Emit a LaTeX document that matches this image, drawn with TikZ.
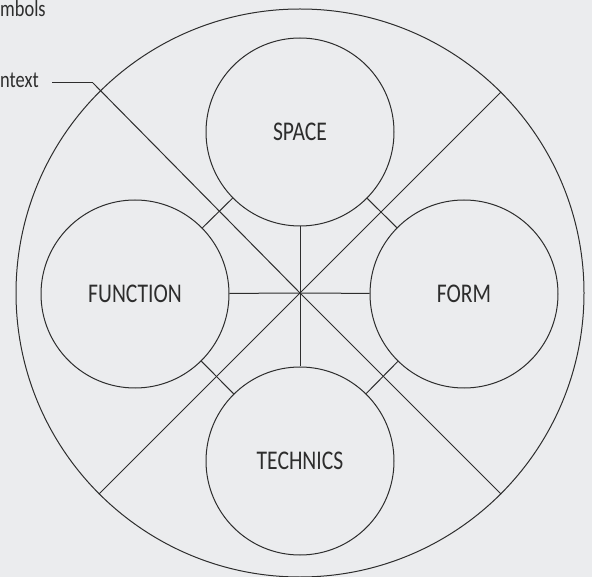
\documentclass[tikz,border=0pt]{standalone}
\usepackage{fontspec}
\newfontfamily\handfont[FakeStretch=0.8]{Carlito}
\definecolor{paper}{RGB}{235,236,238}
\definecolor{ink}{RGB}{45,45,45}
\usetikzlibrary{positioning}

\begin{document}
\begin{tikzpicture}[x=1pt, y=-1pt, every node/.style={font=\handfont}]
        \tikzset{
          realm/.style={circle, draw=ink, line width=1pt,
                 minimum size=188pt, inner sep=0pt,
                 font=\handfont\fontsize{27}{27}\selectfont, text=ink},
          spoke/.style={draw=ink, line width=1pt},
          margin/.style={inner sep=0pt, text=ink,
                 font=\handfont\fontsize{23}{23}\selectfont}
        }
        \path[use as bounding box, fill=paper] (0,0) rectangle (592,577);
        \node[circle, draw=ink, line width=1pt, minimum size=568pt] (whole) at (300,293) {};
        \coordinate (hub) at (300,293);
        \node[realm] (space)    at (300,132) {SPACE};
        \node[realm] (function) at (135,294) {FUNCTION};
        \node[realm] (form)     at (464,294) {FORM};
        \node[realm] (technics) at (300,461) {TECHNICS};
        \node[margin, anchor=base west] (symbols) at (0,17) {mbols};
        \node[margin, anchor=base west] (context) at (0,88) {ntext};
        \coordinate (bend) at (93,83);
        % spokes to the four realms and out to the rim
        \foreach \r in {space, function, form, technics}
          \draw[spoke] (hub) -- (\r);
        \foreach \a in {45, -45, -135}
          \draw[spoke] (hub) -- (whole.\a);
        \draw[spoke] (hub) -- (bend);
        \draw[spoke, shorten >=13pt] (bend) -- (context.east |- bend);
        % short links between neighbours
        \draw[spoke] (space) -- (function);
        \draw[spoke] (space) -- (form);
        \draw[spoke] (technics) -- (function);
        \draw[spoke] (technics) -- (form);
      \end{tikzpicture}
\end{document}
